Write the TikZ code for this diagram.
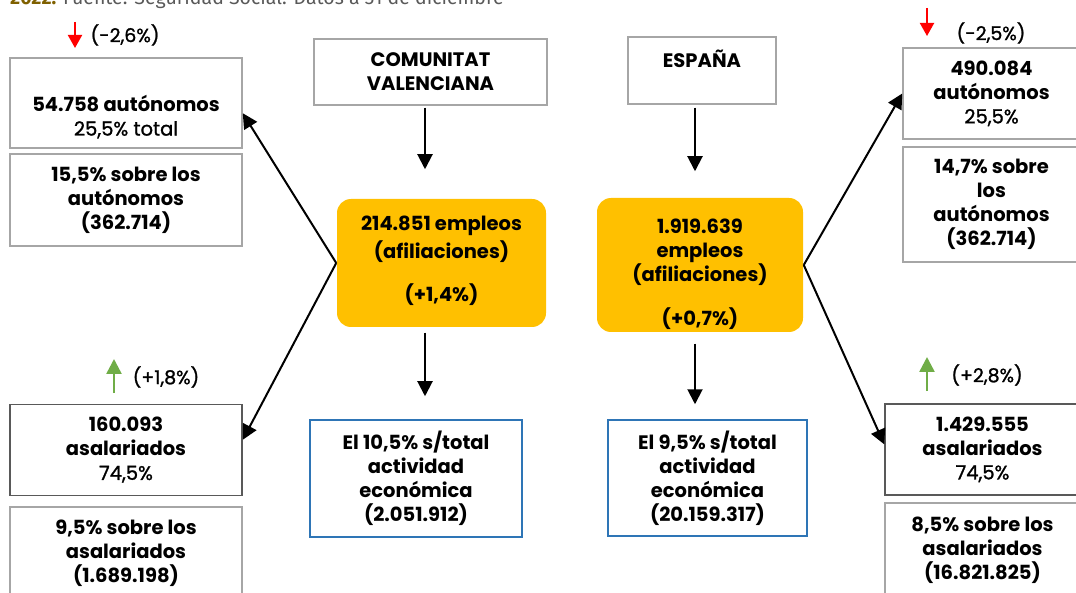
\documentclass[tikz,border=0pt]{standalone}
\usepackage{fontspec}
\setmainfont{Poppins}
\newfontfamily\medio{Poppins}[FakeBold=1.2]
\newfontfamily\fuentefam{Fira Sans}
\usetikzlibrary{arrows.meta}
\definecolor{gris}{HTML}{A6A6A6}
\definecolor{grisosc}{HTML}{595959}
\definecolor{azul}{HTML}{2E75B6}
\definecolor{amarillo}{HTML}{FFC000}
\definecolor{verde}{HTML}{70AD47}
\definecolor{oro}{HTML}{7F6000}

\begin{document}
\begin{tikzpicture}[x=1pt, y=-1pt,
  caja/.style={draw=gris, line width=1.5pt, fill=white, align=center, inner sep=1pt,
    font=\bfseries\fontsize{19.5}{24}\selectfont},
  titulo/.style={caja},
  empleo/.style={caja, draw=none, fill=amarillo, rounded corners=14pt},
  actividad/.style={caja, draw=azul},
  var/.style={font=\medio\mdseries\fontsize{19}{24}\selectfont, inner sep=0pt},
  flecha/.style={line width=2pt, -{Triangle[width=15pt,length=15pt]}},
  baja/.style={red, line width=2pt, -{Triangle[width=14pt,length=13pt]}},
  sube/.style={verde, line width=2.5pt, -{Triangle[width=15pt,length=15pt]}}]
  \useasboundingbox (0,0) rectangle (1076,593);
  \clip (0,0) rectangle (1076,593);

  \node[anchor=base west, inner sep=0pt, font=\fuentefam\fontsize{19.5}{24}\selectfont] (fuente) at (10,5)
    {\textcolor{oro}{\bfseries 2022.} \textcolor{grisosc}{Fuente: Seguridad Social. Datos a 31 de diciembre}};

  % Comunitat Valenciana
  \node[caja, minimum width=232pt, minimum height=90pt] (cvAut) at (126,103)
    {\mbox{}\\[20pt]54.758 autónomos\\{\medio\mdseries 25,5\% total}};
  \node[caja, minimum width=232pt, minimum height=92pt] (cvAutPct) at (126,200)
    {15,5\% sobre los\\autónomos\\(362.714)};
  \node[caja, draw=grisosc, minimum width=232pt, minimum height=91pt] (cvAsal) at (126,450)
    {160.093\\asalariados\\{\medio\mdseries 74,5\%}};
  \node[caja, minimum width=232pt, minimum height=92pt] (cvAsalPct) at (126,553)
    {9,5\% sobre los\\asalariados\\(1.689.198)};

  \node[titulo, minimum width=233pt, minimum height=66pt] (cv) at (430.5,72) {COMUNITAT\\VALENCIANA};
  \node[empleo, minimum width=209pt, minimum height=128pt] (cvEmp) at (441.5,263)
    {\mbox{}\\[-13pt]214.851 empleos\\[4pt](afiliaciones)\\[19pt](+1,4\%)};
  \node[actividad, minimum width=212pt, minimum height=117pt] (cvAct) at (416,478.5)
    {El 10,5\% s/total\\actividad\\económica\\(2.051.912)};

  \draw[baja] (75,22) -- (75,48);
  \node[var] (cvAutVar) at (125,35) {(-2,6\%)};
  \draw[sube] (114,393) -- (114,359);
  \node[var] (cvAsalVar) at (166,377) {(+1,8\%)};

  \draw[flecha, shorten <=2pt, shorten >=29pt] ([xshift=-5.5pt]cv.south) -- ([xshift=-5.5pt]cv.south |- cvEmp.north);
  \draw[flecha, shorten <=5pt, shorten >=23pt] ([xshift=-16.5pt]cvEmp.south) -- ([xshift=-16.5pt]cvEmp.south |- cvAct.north);
  \draw[flecha] (cvEmp.west) -- (cvAut.-5);
  \draw[flecha] (cvEmp.west) -- (cvAsal.5);

  % España
  \node[titulo, minimum width=148pt, minimum height=67pt] (es) at (702,70.5) {ESPAÑA\\\mbox{}};
  \node[empleo, minimum width=206pt, minimum height=134pt] (esEmp) at (700,265)
    {\mbox{}\\[10pt]1.919.639\\empleos\\(afiliaciones)\\[20pt](+0,7\%)};
  \node[actividad, minimum width=199pt, minimum height=116pt] (esAct) at (707.5,478)
    {El 9,5\% s/total\\actividad\\económica\\(20.159.317)};

  \node[caja, minimum width=177pt, minimum height=91pt] (esAut) at (991.5,93.5)
    {490.084\\autónomos\\{\medio\mdseries 25,5\%}};
  \node[caja, minimum width=177pt, minimum height=115pt] (esAutPct) at (991.5,204.5)
    {14,7\% sobre\\los\\autónomos\\(362.714)};
  \node[caja, draw=grisosc, minimum width=195pt, minimum height=91pt] (esAsal) at (982.5,449.5)
    {1.429.555\\asalariados\\{\medio\mdseries 74,5\%}};
  \node[caja, minimum width=195pt, minimum height=95pt] (esAsalPct) at (982.5,550.5)
    {8,5\% sobre los\\asalariados\\(16.821.825)};

  \draw[baja] (927,8) -- (927,36);
  \node[var] (esAutVar) at (991,33) {(-2,5\%)};
  \draw[sube] (927,391) -- (927,357);
  \node[var] (esAsalVar) at (987,375) {(+2,8\%)};

  \draw[flecha, shorten <=3pt, shorten >=26pt] ([xshift=-7pt]es.south) -- ([xshift=-7pt]es.south |- esEmp.north);
  \draw[flecha, shorten <=11pt, shorten >=15pt] ([xshift=-5pt]esEmp.south) -- ([xshift=-5pt]esEmp.south |- esAct.north);
  \draw[flecha] (esEmp.east) -- (esAut.west);
  \draw[flecha] (esEmp.east) -- (esAsal.177);
\end{tikzpicture}
\end{document}
